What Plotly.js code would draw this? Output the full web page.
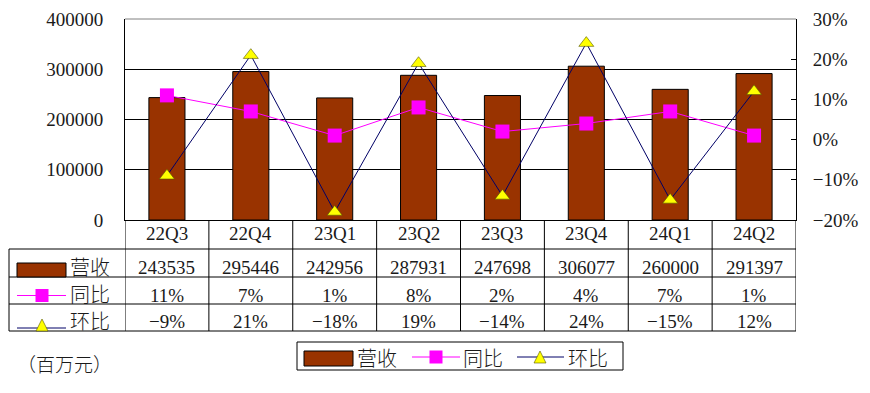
<!DOCTYPE html>
<html><head><meta charset="utf-8">
<script src="https://cdn.plot.ly/plotly-3.0.1.min.js"></script>
<style>body{margin:0;background:#fff}</style></head>
<body><div id="chart" style="width:870px;height:393px"></div>
<script>
const categories = ['22Q3','22Q4','23Q1','23Q2','23Q3','23Q4','24Q1','24Q2'];
const revenue = [243535,295446,242956,287931,247698,306077,260000,291397];
const yoy = [0.11,0.07,0.01,0.08,0.02,0.04,0.07,0.01];
const qoq = [-0.09,0.21,-0.18,0.19,-0.14,0.24,-0.15,0.12];
const rowLabels = ['营收','同比','环比'];
const unitLabel = '（百万元）';

const W=870,H=393,L=125,R=796,T=19,B=220;
const px = x => (x-L)/(R-L);
const py = y => (B-y)/(B-T);
const FONT = 'Liberation Serif, Noto Sans CJK SC, serif';
const CJK = 'Noto Sans CJK SC, Liberation Serif, sans-serif';
const TXT = '#1a1a1a';
const BROWN = '#993300', PINK = '#FF00FF', NAVY = '#000066', YEL = '#FFFF00';
const pct = v => { const r = Math.round(v*100); return (r<0 ? '\u2212'+Math.abs(r) : r) + '%'; };
const xs = categories.map((c,i)=>i);

const traces = [
  {type:'bar', x:xs, y:revenue, name:rowLabels[0], width:0.43,
   marker:{color:BROWN, line:{color:'#000', width:1}}, hoverinfo:'skip'},
  {type:'scatter', mode:'lines+markers', x:xs, y:yoy, yaxis:'y2', name:rowLabels[1],
   line:{color:PINK, width:1}, marker:{symbol:'square', size:14, color:PINK}, cliponaxis:false},
  {type:'scatter', mode:'lines+markers', x:xs, y:qoq, yaxis:'y2', name:rowLabels[2],
   line:{color:NAVY, width:1}, marker:{symbol:'triangle-up', size:13, color:YEL, line:{color:'#555500', width:0.6}}, cliponaxis:false}
];

const shapes = [];
const ann = [];
const hline = (x0,x1,y,color,w) => shapes.push({type:'line', xref:'paper', yref:'paper', x0:px(x0), x1:px(x1), y0:py(y), y1:py(y), line:{color:color||'#000', width:w||1}});
shapes.push({type:'line', xref:'paper', yref:'paper', x0:0, x1:1, y0:1, y1:1, line:{color:'#808080', width:1}});
[249,277,304,331].forEach(y=>hline(9,R,y));
shapes.push({type:'line', xref:'paper', yref:'paper', x0:px(9), x1:px(9), y0:py(249), y1:py(331), line:{color:'#000', width:1}});
for (let i=0;i<=categories.length;i++) {
  shapes.push({type:'line', xref:'x', yref:'paper', x0:i-0.5, x1:i-0.5, y0:py(220), y1:py(331), line:{color:'#000', width:1}});
}
const rectIcon = (x0,x1,y0,y1) => shapes.push({type:'rect', xref:'paper', yref:'paper', x0:px(x0), x1:px(x1), y0:py(y1), y1:py(y0), fillcolor:BROWN, line:{color:'#000', width:1}});
const lineIcon = (x0,x1,y,c) => hline(x0,x1,y,c,1);
const sqIcon = (cx,cy,s) => shapes.push({type:'rect', xref:'paper', yref:'paper', x0:px(cx-s/2), x1:px(cx+s/2), y0:py(cy+s/2), y1:py(cy-s/2), fillcolor:PINK, line:{width:0}});
const triIcon = (cx,yb,w,h) => shapes.push({type:'path', xref:'paper', yref:'paper',
  path:`M ${px(cx-w/2)} ${py(yb)} L ${px(cx+w/2)} ${py(yb)} L ${px(cx)} ${py(yb-h)} Z`, fillcolor:YEL, line:{color:'#555500', width:0.6}});
const text = (t,x,y,xanchor,size,xref,fam,weight) => ann.push({text:t, x:(xref==='x'?x:px(x)), y:py(y), xref:xref||'paper', yref:'paper', xanchor:xanchor||'center', yanchor:'middle', showarrow:false, font:{family:fam||FONT, size:size||19, color:TXT, weight:weight||400}});

rectIcon(17,66,263,277);
lineIcon(17,66,295.5,PINK); sqIcon(42,295.5,13);
lineIcon(17,66,328,NAVY); triIcon(42,331,12,12);
text(rowLabels[0],68,266,'left',20,'paper',CJK,300);
text(rowLabels[1],68,293,'left',20,'paper',CJK,300);
text(rowLabels[2],68,320,'left',20,'paper',CJK,300);

categories.forEach((c,i)=>{
  text(c,i,233.5,'center',19,'x');
  text(String(revenue[i]),i,267.5,'center',19,'x');
  text(pct(yoy[i]),i,295,'center',19,'x');
  text(pct(qoq[i]),i,321,'center',19,'x');
});

text(unitLabel,15,364,'left',19,'paper',CJK,300);

shapes.push({type:'rect', xref:'paper', yref:'paper', x0:px(297), x1:px(623), y0:py(370), y1:py(342), fillcolor:'rgba(0,0,0,0)', line:{color:'#000', width:1}});
rectIcon(304,353,351,366);
text(rowLabels[0],355,357,'left',20,'paper',CJK,300);
lineIcon(412,460,357,PINK); sqIcon(436,357,13);
text(rowLabels[1],461,357,'left',20,'paper',CJK,300);
lineIcon(517,564,357,NAVY); triIcon(540,363,12,12);
text(rowLabels[2],566,357,'left',20,'paper',CJK,300);

const layout = {
  width:W, height:H, margin:{l:L, r:W-R, t:T, b:H-B, pad:0},
  paper_bgcolor:'#fff', plot_bgcolor:'#fff', showlegend:false,
  font:{family:FONT, color:TXT},
  xaxis:{range:[-0.5,categories.length-0.5], showticklabels:false, ticks:'', showgrid:false, zeroline:false,
         showline:true, linecolor:'#000', linewidth:1, fixedrange:true},
  yaxis:{range:[0,400000], dtick:100000, tickformat:'d', showgrid:true, gridcolor:'#000', gridwidth:1, zeroline:false,
         showline:true, linecolor:'#000', linewidth:1, ticks:'', ticklabelstandoff:17,
         tickfont:{family:FONT, size:19, color:TXT}},
  yaxis2:{overlaying:'y', side:'right', range:[-0.2,0.3], dtick:0.1, tickformat:'.0%', showgrid:false, zeroline:false,
          showline:true, linecolor:'#000', linewidth:1, ticks:'inside', ticklen:5, tickcolor:'#000', ticklabelstandoff:12,
          tickfont:{family:FONT, size:19, color:TXT}},
  shapes:shapes, annotations:ann
};
Plotly.newPlot('chart', traces, layout, {displayModeBar:false, staticPlot:true});
</script></body></html>
